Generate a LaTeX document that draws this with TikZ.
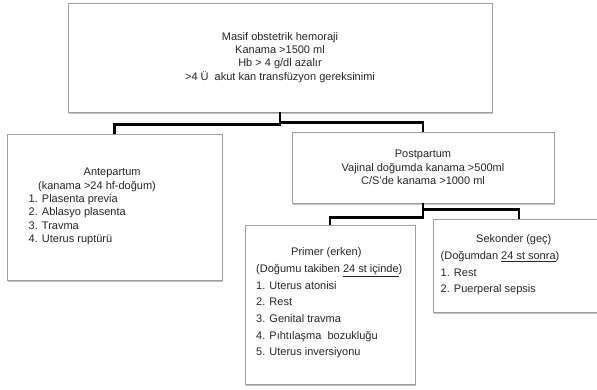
\documentclass[tikz,border=0pt]{standalone}
\usepackage{fontspec}
\setmainfont{Liberation Sans}
\usetikzlibrary{shadows}

\tikzset{
  box/.style={draw=gray!75, line width=0.6pt, fill=white, inner sep=0pt,
    drop shadow={shadow xshift=1pt, shadow yshift=-1.5pt, fill=black!40, opacity=0.6}},
  link/.style={line width=2.6pt, black},
  narrow/.style={font=\fontsize{11}{13.3}\selectfont, text=black!85, inner sep=0pt},
  loose/.style={font=\fontsize{11}{16.7}\selectfont, text=black!85, inner sep=0pt},
}

\begin{document}
\begin{tikzpicture}[x=1pt, y=-1pt]
    \useasboundingbox (0,0) rectangle (597,389);

    % boxes
    \node[box, narrow, align=center, minimum width=424pt, minimum height=109pt] (masif) at (280,57.5)
        {Masif obstetrik hemoraji\\Kanama >1500 ml\\Hb > 4 g/dl azalır\\>4 Ü~ akut kan transfüzyon gereksinimi};
    \node[box, minimum width=215pt, minimum height=146pt] (ante) at (114.5,207) {};
    \node[box, narrow, align=center, minimum width=262pt, minimum height=71pt] (post) at (423,167.5)
        {Postpartum\\Vajinal doğumda kanama >500ml\\C/S’de kanama >1000 ml};
    \node[box, minimum width=170pt, minimum height=159pt] (primer) at (330,304.5) {};
    \node[box, minimum width=172pt, minimum height=93pt] (sek) at (519,265.5) {};

    % box texts
    \node[narrow, align=left, anchor=west] (antetxt) at (28.5,206.5)
        {\hspace*{55pt}Antepartum\\\hspace*{9.5pt}(kanama >24 hf-doğum)\\1. Plasenta previa\\2. Ablasyo plasenta\\3. Travma\\4. Uterus ruptürü};
    \node[loose, align=left, anchor=west] (primertxt) at (256,303)
        {\hspace*{35pt}Primer (erken)\\(Doğumu takiben \underline{24 st içinde})\\1. Uterus atonisi\\2. Rest\\3. Genital travma\\4. Pıhtılaşma~ bozukluğu\\5. Uterus inversiyonu};
    \node[loose, align=left, anchor=west] (sektxt) at (440.5,265)
        {\hspace*{35.5pt}Sekonder (geç)\\(Doğumdan \underline{24 st sonra})\\1. Rest\\2. Puerperal sepsis};

    % links
    \draw[link] (masif.south) -- ([yshift=-12pt]masif.south) -| (ante.north);
    \draw[link] ([yshift=-10pt]masif.south) -| (post.north);
    \draw[link] (post.south) -- ([yshift=-14pt]post.south) -| (primer.north);
    \draw[link] ([yshift=-6pt]post.south) -| (sek.north);
\end{tikzpicture}
\end{document}
